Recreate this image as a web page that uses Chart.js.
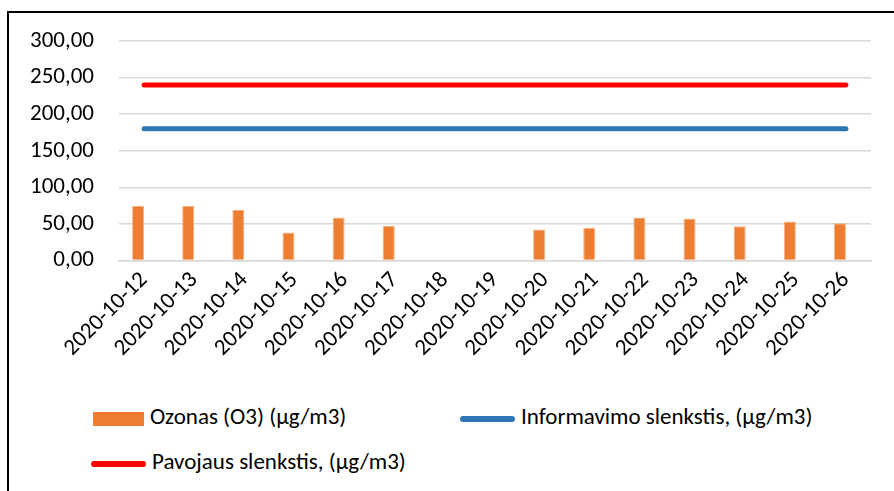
<!DOCTYPE html>
<html lang="lt">
<head>
  <meta charset="UTF-8" />
  <title>Ozonas (O3)</title>
  <script src="https://cdn.jsdelivr.net/npm/chart.js"></script>
  <style>
    body {
      margin: 0;
      width: 894px;
      height: 491px;
      overflow: hidden;
      background: #fff;
      font-family: Carlito, "Liberation Sans", sans-serif;
    }

    #ramka {
      position: absolute;
      left: 7px;
      top: 11px;
      width: 910px;
      height: 510px;
      border: 2px solid #000;
    }

    #grafikas-container {
      position: absolute;
      left: 0;
      top: 0;
      width: 894px;
      height: 390px;
    }

    #legenda div {
      position: absolute;
      font-size: 23px;
      color: #000;
      line-height: 24px;
      white-space: nowrap;
    }

    #legenda span {
      display: inline-block;
      vertical-align: middle;
      margin-right: 6px;
    }
  </style>
</head>
<body>

  <div id="ramka"></div>
  <div id="grafikas-container">
    <canvas id="grafikas"></canvas>
  </div>
  <div id="legenda"></div>

  <script>
    const datos = [
      '2020-10-12', '2020-10-13', '2020-10-14', '2020-10-15', '2020-10-16',
      '2020-10-17', '2020-10-18', '2020-10-19', '2020-10-20', '2020-10-21',
      '2020-10-22', '2020-10-23', '2020-10-24', '2020-10-25', '2020-10-26'
    ];
    const ozonas = [75, 74.5, 69.5, 38.5, 59, 47.5, null, null, 42.5, 45, 59, 57.5, 47, 53.5, 51];
    const informavimoSlenkstis = [180, 180, 180, 180, 180, 180, 180, 180, 180, 180, 180, 180, 180, 180, 180];
    const pavojausSlenkstis = [240, 240, 240, 240, 240, 240, 240, 240, 240, 240, 240, 240, 240, 240, 240];
    // tuscia serija - Excel'yje stulpelis stovi desineje kategorijos puseje
    const tuscia = [null, null, null, null, null, null, null, null, null, null, null, null, null, null, null];
    const yTicks = [0, 50, 100, 150, 200, 250, 300];

    const sriftas = 'Carlito, "Liberation Sans", sans-serif';

    const ctx = document.getElementById('grafikas').getContext('2d');

    const grafikas = new Chart(ctx, {
      type: 'bar',
      data: {
        labels: datos,
        datasets: [
          {
            label: '',
            data: tuscia,
            backgroundColor: 'rgba(0,0,0,0)',
            categoryPercentage: 0.48,
            barPercentage: 1,
            order: 3
          },
          {
            label: 'Ozonas (O3) (µg/m3)',
            data: ozonas,
            backgroundColor: '#ED7D31',
            borderColor: '#F4B183',
            borderWidth: 1,
            categoryPercentage: 0.48,
            barPercentage: 1,
            order: 2
          },
          {
            type: 'line',
            label: 'Informavimo slenkstis, (µg/m3)',
            data: informavimoSlenkstis,
            borderColor: '#2E75B6',
            backgroundColor: '#2E75B6',
            borderWidth: 5,
            borderCapStyle: 'round',
            pointRadius: 0,
            fill: false,
            order: 1
          },
          {
            type: 'line',
            label: 'Pavojaus slenkstis, (µg/m3)',
            data: pavojausSlenkstis,
            borderColor: '#FF0000',
            backgroundColor: '#FF0000',
            borderWidth: 5,
            borderCapStyle: 'round',
            pointRadius: 0,
            fill: false,
            order: 0
          }
        ]
      },
      options: {
        responsive: true,
        maintainAspectRatio: false,
        animation: false,
        layout: {
          padding: { left: 5, right: 23, top: 41, bottom: 22 }
        },
        plugins: {
          legend: { display: false },
          tooltip: { enabled: false }
        },
        scales: {
          x: {
            grid: { display: false, drawTicks: false },
            border: { color: '#D9D9D9', width: 1.5 },
            ticks: {
              color: '#000',
              font: { family: sriftas, size: 23 },
              minRotation: 45,
              maxRotation: 45,
              autoSkip: false,
              padding: 6
            }
          },
          y: {
            min: 0,
            max: 300,
            afterBuildTicks: (axis) => {
              axis.ticks = yTicks.map(v => ({ value: v }));
            },
            grid: { color: '#D9D9D9', lineWidth: 1.5, drawTicks: false },
            border: { display: false },
            ticks: {
              color: '#000',
              font: { family: sriftas, size: 23 },
              padding: 25,
              callback: (v) => v.toFixed(2).replace('.', ',')
            }
          }
        }
      }
    });

    // legenda is duomenu rinkiniu
    const legendosVietos = [
      { ds: 1, left: 93, top: 404, zenklas: 'box' },
      { ds: 2, left: 460, top: 404, zenklas: 'line' },
      { ds: 3, left: 91, top: 449, zenklas: 'line' }
    ];
    const legenda = document.getElementById('legenda');
    legendosVietos.forEach(v => {
      const d = grafikas.data.datasets[v.ds];
      const el = document.createElement('div');
      el.style.left = v.left + 'px';
      el.style.top = v.top + 'px';
      const z = document.createElement('span');
      if (v.zenklas === 'box') {
        z.style.width = '51px';
        z.style.height = '14px';
        z.style.background = d.backgroundColor;
      } else {
        z.style.width = '55px';
        z.style.height = '6px';
        z.style.borderRadius = '3px';
        z.style.background = d.borderColor;
      }
      el.appendChild(z);
      el.appendChild(document.createTextNode(d.label));
      legenda.appendChild(el);
    });
  </script>

</body>
</html>
